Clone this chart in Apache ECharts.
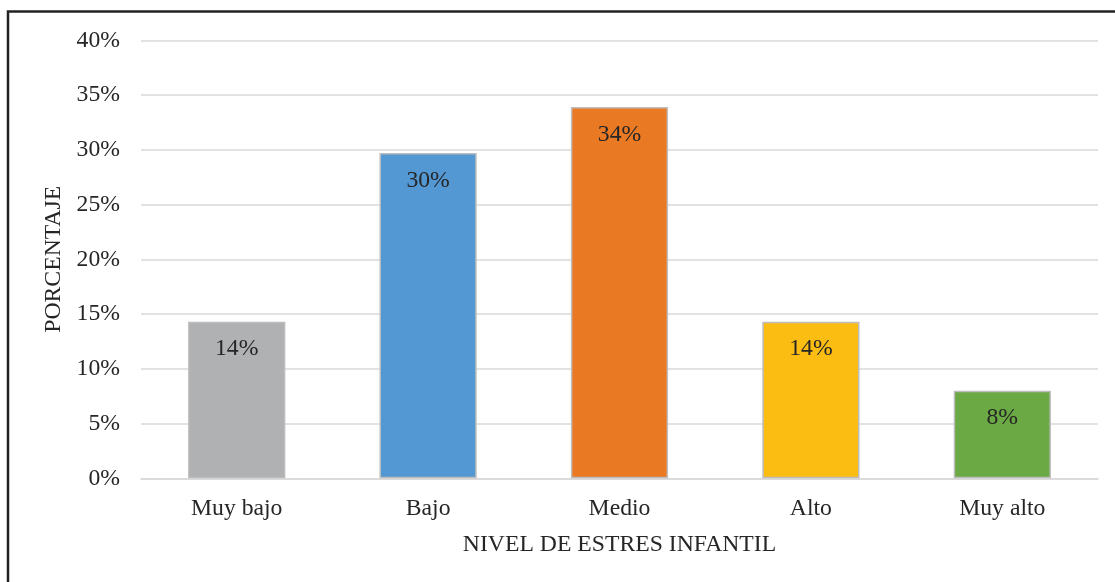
<!DOCTYPE html>
<html>
<head>
<meta charset="utf-8">
<script src="https://cdn.jsdelivr.net/npm/echarts@6/dist/echarts.min.js"></script>
<style>
  html, body { margin: 0; padding: 0; background: #ffffff; }
  #chart { width: 1115px; height: 582px; }
</style>
</head>
<body>
<div id="chart"></div>
<script>
// Niveles de estrés infantil (porcentaje de niños por nivel)
const categories = ['Muy bajo', 'Bajo', 'Medio', 'Alto', 'Muy alto'];
const percentages = [14.3, 29.7, 33.9, 14.3, 8.0];
const barColors = ['#B0B1B3', '#5397D3', '#EA7924', '#FCBD13', '#6AA943'];
const yTicks = [0, 5, 10, 15, 20, 25, 30, 35, 40];

const FONT = '"Liberation Serif", "Times New Roman", serif';
const TEXT = '#262626';
const FS = 23.7;

const chart = echarts.init(document.getElementById('chart'), null, { renderer: 'canvas' });

chart.setOption({
  animation: false,
  backgroundColor: '#ffffff',
  textStyle: { fontFamily: FONT, color: TEXT },
  graphic: [{
    type: 'rect',
    shape: { x: 8, y: 11.5, width: 1300, height: 800 },
    style: { fill: 'none', stroke: '#222222', lineWidth: 2.5 },
    silent: true,
    z: 100
  }],
  grid: { left: 141, right: 17, top: 40.3, bottom: 103.7, containLabel: false },
  xAxis: {
    type: 'category',
    data: categories,
    name: 'NIVEL DE ESTRES INFANTIL',
    nameLocation: 'middle',
    nameGap: 54,
    nameTextStyle: { fontFamily: FONT, fontSize: FS, color: TEXT },
    axisLine: { show: true, lineStyle: { color: '#D9D9D9', width: 1.5 } },
    axisTick: { show: false },
    axisLabel: { fontFamily: FONT, fontSize: FS, color: TEXT, margin: 18 }
  },
  yAxis: {
    type: 'value',
    min: yTicks[0],
    max: yTicks[yTicks.length - 1],
    interval: 5,
    name: 'PORCENTAJE',
    nameLocation: 'middle',
    nameRotate: 90,
    nameGap: 74,
    nameTextStyle: { fontFamily: FONT, fontSize: FS, color: TEXT },
    axisLine: { show: false },
    axisTick: { show: false },
    axisLabel: {
      fontFamily: FONT, fontSize: FS, color: TEXT, margin: 21,
      formatter: v => v + '%'
    },
    splitLine: { show: true, lineStyle: { color: '#D9D9D9', width: 1.5 } }
  },
  series: [{
    type: 'bar',
    data: percentages.map((v, i) => ({
      value: v,
      itemStyle: { color: barColors[i] }
    })),
    barWidth: '50.8%',
    itemStyle: { borderColor: '#BDBDBD', borderWidth: 1.5 },
    label: {
      show: true,
      position: 'insideTop',
      distance: 15.5,
      fontFamily: FONT,
      fontSize: FS,
      color: TEXT,
      formatter: p => Math.round(p.value) + '%'
    }
  }]
});
</script>
</body>
</html>
